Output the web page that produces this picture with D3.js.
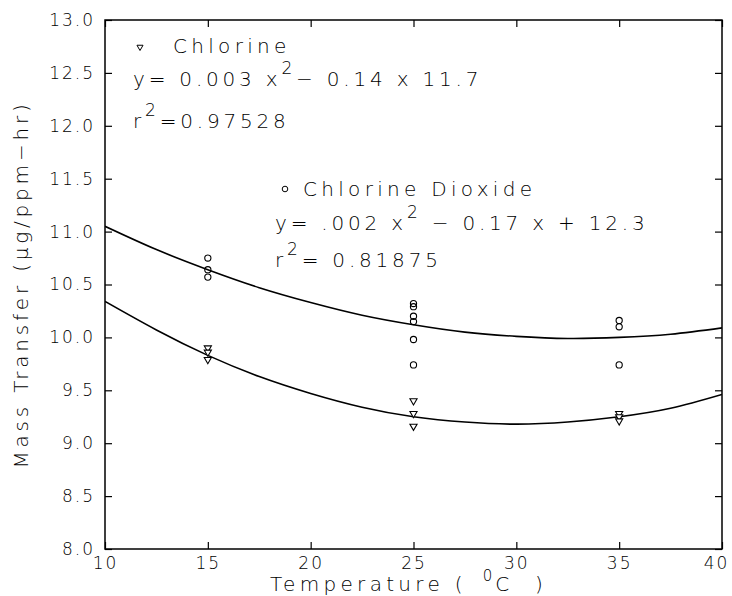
<!DOCTYPE html>
<html><head><meta charset="utf-8">
<script src="https://cdn.jsdelivr.net/npm/d3@7"></script>
<style>
html,body{margin:0;padding:0;background:#fff;}
svg{display:block;}
text{font-family:"DejaVu Sans",sans-serif;font-weight:200;fill:#000;}
</style></head><body><div id="chart"></div>
<script>
// ---- data ----
const xTicks = [10, 15, 20, 25, 30, 35, 40];
const yTicks = [8.0, 8.5, 9.0, 9.5, 10.0, 10.5, 11.0, 11.5, 12.0, 12.5, 13.0];
const chlorineTemp = [15, 15, 15, 25, 25, 25, 35, 35, 35];
const chlorineMass = [9.90, 9.86, 9.79, 9.40, 9.28, 9.16, 9.28, 9.25, 9.21];
const dioxideTemp = [15, 15, 15, 25, 25, 25, 25, 25, 25, 35, 35, 35];
const dioxideMass = [10.75, 10.64, 10.57, 10.32, 10.29, 10.20, 10.15, 9.98, 9.74, 10.16, 10.10, 9.74];
const fitTemp = [10, 12.5, 15, 17.5, 20, 22.5, 25, 27.5, 30, 32.5, 35, 37.5, 40];
const chlorineFit = [10.34, 10.07, 9.83, 9.63, 9.47, 9.34, 9.25, 9.20, 9.18, 9.20, 9.25, 9.33, 9.46];
const dioxideFit = [11.05, 10.83, 10.64, 10.47, 10.33, 10.21, 10.12, 10.05, 10.01, 9.99, 10.00, 10.03, 10.09];
const chlorineName = "Chlorine";
const dioxideName = "Chlorine Dioxide";
const chlorineEq = [["y= 0.003 x", false], ["2", true], ["\u2212 0.14 x 11.7", false]];
const chlorineR2 = [["r", false], ["2", true], ["=0.97528", false]];
const dioxideEq = [["y= .002 x", false], ["2", true], [" \u2212 0.17 x + 12.3", false]];
const dioxideR2 = [["r", false], ["2", true], ["= 0.81875", false]];
const xTitleMain = "Temperature (";
const xTitleSup = "0";
const xTitleEnd = "C  )";
const yTitle = "Mass Transfer (\u03BCg/ppm\u2212hr)";

// ---- layout ----
const W = 732, H = 596;
const m = {left: 105, right: 10, top: 20, bottom: 47};
const iw = W - m.left - m.right, ih = H - m.top - m.bottom;

const svg = d3.select("#chart").append("svg").attr("width", W).attr("height", H);
const g = svg.append("g").attr("transform", `translate(${m.left},${m.top})`);

const x = d3.scaleLinear().domain([10, 40]).range([0, iw]);
const y = d3.scaleLinear().domain([8, 13]).range([ih, 0]);

function styleAxis(sel) {
  sel.select(".domain").remove();
  sel.selectAll(".tick line").attr("stroke", "#000").attr("stroke-width", 1.2);
  sel.selectAll("text").attr("font-family", "DejaVu Sans").attr("font-weight", 200)
     .attr("font-size", 17).attr("fill", "#000").style("letter-spacing", "2px");
}

const xAxisG = g.append("g").attr("transform", `translate(0,${ih})`)
  .call(d3.axisBottom(x).tickValues(xTicks).tickSizeInner(-7).tickSizeOuter(0).tickPadding(8).tickFormat(d3.format("d")))
  .call(styleAxis);
xAxisG.selectAll(".tick text").filter(d => d === 40).attr("dx", -6);
g.append("g")
  .call(d3.axisLeft(y).tickValues(yTicks).tickSizeInner(-7).tickSizeOuter(0).tickPadding(10).tickFormat(d3.format(".1f")))
  .call(styleAxis);
g.append("g")
  .call(d3.axisTop(x).tickValues(xTicks).tickSizeInner(-7).tickSizeOuter(0).tickFormat(""))
  .call(styleAxis);
g.append("g").attr("transform", `translate(${iw},0)`)
  .call(d3.axisRight(y).tickValues(yTicks).tickSizeInner(-7).tickSizeOuter(0).tickFormat(""))
  .call(styleAxis);

g.append("rect").attr("width", iw).attr("height", ih)
  .attr("fill", "none").attr("stroke", "#000").attr("stroke-width", 1.5);

// fitted curves
g.append("clipPath").attr("id", "clip").append("rect").attr("width", iw).attr("height", ih);
const line = d3.line().x(d => x(d[0])).y(d => y(d[1])).curve(d3.curveNatural);
[chlorineFit, dioxideFit].forEach(fit => {
  g.append("path").datum(fitTemp.map((t, i) => [t, fit[i]]))
    .attr("d", line).attr("fill", "none").attr("stroke", "#000").attr("stroke-width", 1.6)
    .attr("clip-path", "url(#clip)");
});

// markers
const tri = d3.symbol().type(d3.symbolTriangle).size(22);
g.selectAll(".cl").data(chlorineTemp.map((t, i) => [t, chlorineMass[i]])).join("path")
  .attr("d", tri).attr("transform", d => `translate(${x(d[0])},${y(d[1])}) rotate(180)`)
  .attr("fill", "#fff").attr("stroke", "#000").attr("stroke-width", 1.1);
g.selectAll(".cd").data(dioxideTemp.map((t, i) => [t, dioxideMass[i]])).join("circle")
  .attr("cx", d => x(d[0])).attr("cy", d => y(d[1])).attr("r", 3.1)
  .attr("fill", "none").attr("stroke", "#000").attr("stroke-width", 1.1);

// rich text helper
function rich(parent, px, py, parts, size, spacing) {
  const t = parent.append("text").attr("x", px).attr("y", py)
    .attr("font-size", size).style("letter-spacing", spacing + "px").attr("xml:space", "preserve");
  let up = false;
  parts.forEach(([s, sup]) => {
    const ts = t.append("tspan").text(s);
    if (sup && !up) { ts.attr("dy", -12).attr("font-size", size * 0.85); up = true; }
    else if (!sup && up) { ts.attr("dy", 12); up = false; }
  });
  return t;
}

// legend / annotations
svg.append("path").attr("d", d3.symbol().type(d3.symbolTriangle).size(16)())
  .attr("transform", "translate(140,47) rotate(180)").attr("fill", "#fff").attr("stroke", "#000").attr("stroke-width", 1);
svg.append("text").attr("x", 173).attr("y", 53).attr("font-size", 20).style("letter-spacing", "4.3px").text(chlorineName);
rich(svg, 133, 86, chlorineEq, 20, 3.8);
rich(svg, 133, 128, chlorineR2, 20, 3.8);

svg.append("circle").attr("cx", 285).attr("cy", 189).attr("r", 2.8)
  .attr("fill", "none").attr("stroke", "#000").attr("stroke-width", 1);
svg.append("text").attr("x", 303).attr("y", 196).attr("font-size", 20).style("letter-spacing", "4.3px").text(dioxideName);
rich(svg, 275, 230, dioxideEq, 20, 3.8);
rich(svg, 275, 267, dioxideR2, 20, 3.8);

// axis titles
const tBase = 591;
const t1 = svg.append("text").attr("x", 270).attr("y", tBase).attr("font-size", 20)
  .style("letter-spacing", "4.3px").text(xTitleMain);
const x1 = 270 + t1.node().getComputedTextLength();
const t2 = svg.append("text").attr("x", x1 + 16).attr("y", tBase - 10).attr("font-size", 15)
  .style("letter-spacing", "1px").text(xTitleSup);
const x2 = x1 + 16 + t2.node().getComputedTextLength();
svg.append("text").attr("x", x2 + 2).attr("y", tBase).attr("font-size", 20)
  .style("letter-spacing", "4.3px").attr("xml:space", "preserve").text(xTitleEnd);

svg.append("text").attr("transform", `translate(28,${m.top + ih / 2}) rotate(-90)`)
  .attr("text-anchor", "middle").attr("font-size", 20).style("letter-spacing", "3.8px").text(yTitle);
</script></body></html>
